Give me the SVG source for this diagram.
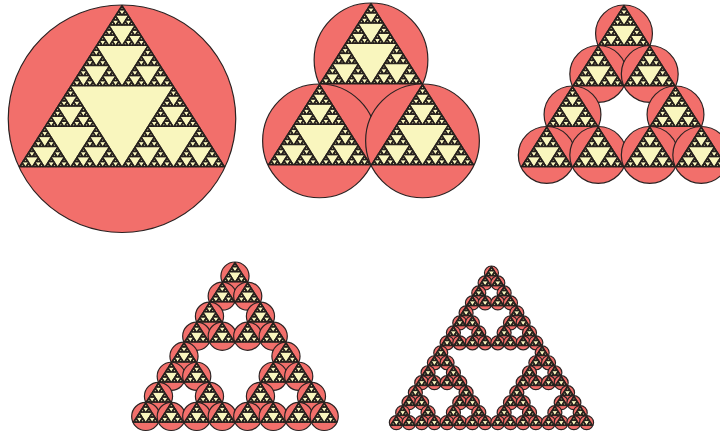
<svg xmlns="http://www.w3.org/2000/svg" width="720" height="437" viewBox="0 0 720 437">
<style>
.leaf{fill:#221c1a;stroke:#221c1a;stroke-width:1.0;stroke-linejoin:round;vector-effect:non-scaling-stroke}
.disc{fill:#F26F6B;stroke:#2b2222;stroke-width:1.2;vector-effect:non-scaling-stroke}
.tri{fill:#F9F6BE}
</style>
<defs>
<polygon id="s0" class="leaf" points="103,0 0,162 206,162"/>
<g id="s1"><use href="#s0" transform="translate(51.5,0) scale(.5)"/><use href="#s0" transform="translate(0,81) scale(.5)"/><use href="#s0" transform="translate(103,81) scale(.5)"/></g>
<g id="s2"><use href="#s1" transform="translate(51.5,0) scale(.5)"/><use href="#s1" transform="translate(0,81) scale(.5)"/><use href="#s1" transform="translate(103,81) scale(.5)"/></g>
<g id="s3"><use href="#s2" transform="translate(51.5,0) scale(.5)"/><use href="#s2" transform="translate(0,81) scale(.5)"/><use href="#s2" transform="translate(103,81) scale(.5)"/></g>
<g id="s4"><use href="#s3" transform="translate(51.5,0) scale(.5)"/><use href="#s3" transform="translate(0,81) scale(.5)"/><use href="#s3" transform="translate(103,81) scale(.5)"/></g>
<g id="s5"><use href="#s4" transform="translate(51.5,0) scale(.5)"/><use href="#s4" transform="translate(0,81) scale(.5)"/><use href="#s4" transform="translate(103,81) scale(.5)"/></g>
<g id="s6"><use href="#s5" transform="translate(51.5,0) scale(.5)"/><use href="#s5" transform="translate(0,81) scale(.5)"/><use href="#s5" transform="translate(103,81) scale(.5)"/></g>
<g id="s7"><use href="#s6" transform="translate(51.5,0) scale(.5)"/><use href="#s6" transform="translate(0,81) scale(.5)"/><use href="#s6" transform="translate(103,81) scale(.5)"/></g>
<circle id="disc" class="disc" cx="103" cy="113.74" r="113.74"/>
<polygon id="tri" class="tri" points="103,0 0,162 206,162"/>
<g id="u7"><use href="#disc"/><use href="#tri"/><use href="#s7"/></g>
<g id="u6"><use href="#disc"/><use href="#tri"/><use href="#s6"/></g>
<g id="u5"><use href="#disc"/><use href="#tri"/><use href="#s5"/></g>
<g id="u4"><use href="#disc"/><use href="#tri"/><use href="#s4"/></g>
<g id="u3"><use href="#disc"/><use href="#tri"/><use href="#s3"/></g>
<g id="p2"><use href="#u6" transform="translate(51.5,0) scale(.5)"/><use href="#u6" transform="translate(0,81) scale(.5)"/><use href="#u6" transform="translate(103,81) scale(.5)"/></g>
<g id="p3a"><use href="#u5" transform="translate(51.5,0) scale(.5)"/><use href="#u5" transform="translate(0,81) scale(.5)"/><use href="#u5" transform="translate(103,81) scale(.5)"/></g>
<g id="p3"><use href="#p3a" transform="translate(51.5,0) scale(.5)"/><use href="#p3a" transform="translate(0,81) scale(.5)"/><use href="#p3a" transform="translate(103,81) scale(.5)"/></g>
<g id="p4a"><use href="#u4" transform="translate(51.5,0) scale(.5)"/><use href="#u4" transform="translate(0,81) scale(.5)"/><use href="#u4" transform="translate(103,81) scale(.5)"/></g>
<g id="p4b"><use href="#p4a" transform="translate(51.5,0) scale(.5)"/><use href="#p4a" transform="translate(0,81) scale(.5)"/><use href="#p4a" transform="translate(103,81) scale(.5)"/></g>
<g id="p4"><use href="#p4b" transform="translate(51.5,0) scale(.5)"/><use href="#p4b" transform="translate(0,81) scale(.5)"/><use href="#p4b" transform="translate(103,81) scale(.5)"/></g>
<g id="p5a"><use href="#u3" transform="translate(51.5,0) scale(.5)"/><use href="#u3" transform="translate(0,81) scale(.5)"/><use href="#u3" transform="translate(103,81) scale(.5)"/></g>
<g id="p5b"><use href="#p5a" transform="translate(51.5,0) scale(.5)"/><use href="#p5a" transform="translate(0,81) scale(.5)"/><use href="#p5a" transform="translate(103,81) scale(.5)"/></g>
<g id="p5c"><use href="#p5b" transform="translate(51.5,0) scale(.5)"/><use href="#p5b" transform="translate(0,81) scale(.5)"/><use href="#p5b" transform="translate(103,81) scale(.5)"/></g>
<g id="p5"><use href="#p5c" transform="translate(51.5,0) scale(.5)"/><use href="#p5c" transform="translate(0,81) scale(.5)"/><use href="#p5c" transform="translate(103,81) scale(.5)"/></g>
</defs>
<rect width="720" height="437" fill="#ffffff"/>
<g id="panel1"><use href="#u7" transform="translate(19,5)"/></g>
<g id="panel2"><use href="#p2" transform="translate(268,3)"/></g>
<g id="panel3"><use href="#p3" transform="translate(521,5)"/></g>
<g id="panel4"><use href="#p4" transform="translate(133,262) scale(0.99)"/></g>
<g id="panel5"><use href="#p5" transform="translate(390,266) scale(0.985)"/></g>
</svg>
